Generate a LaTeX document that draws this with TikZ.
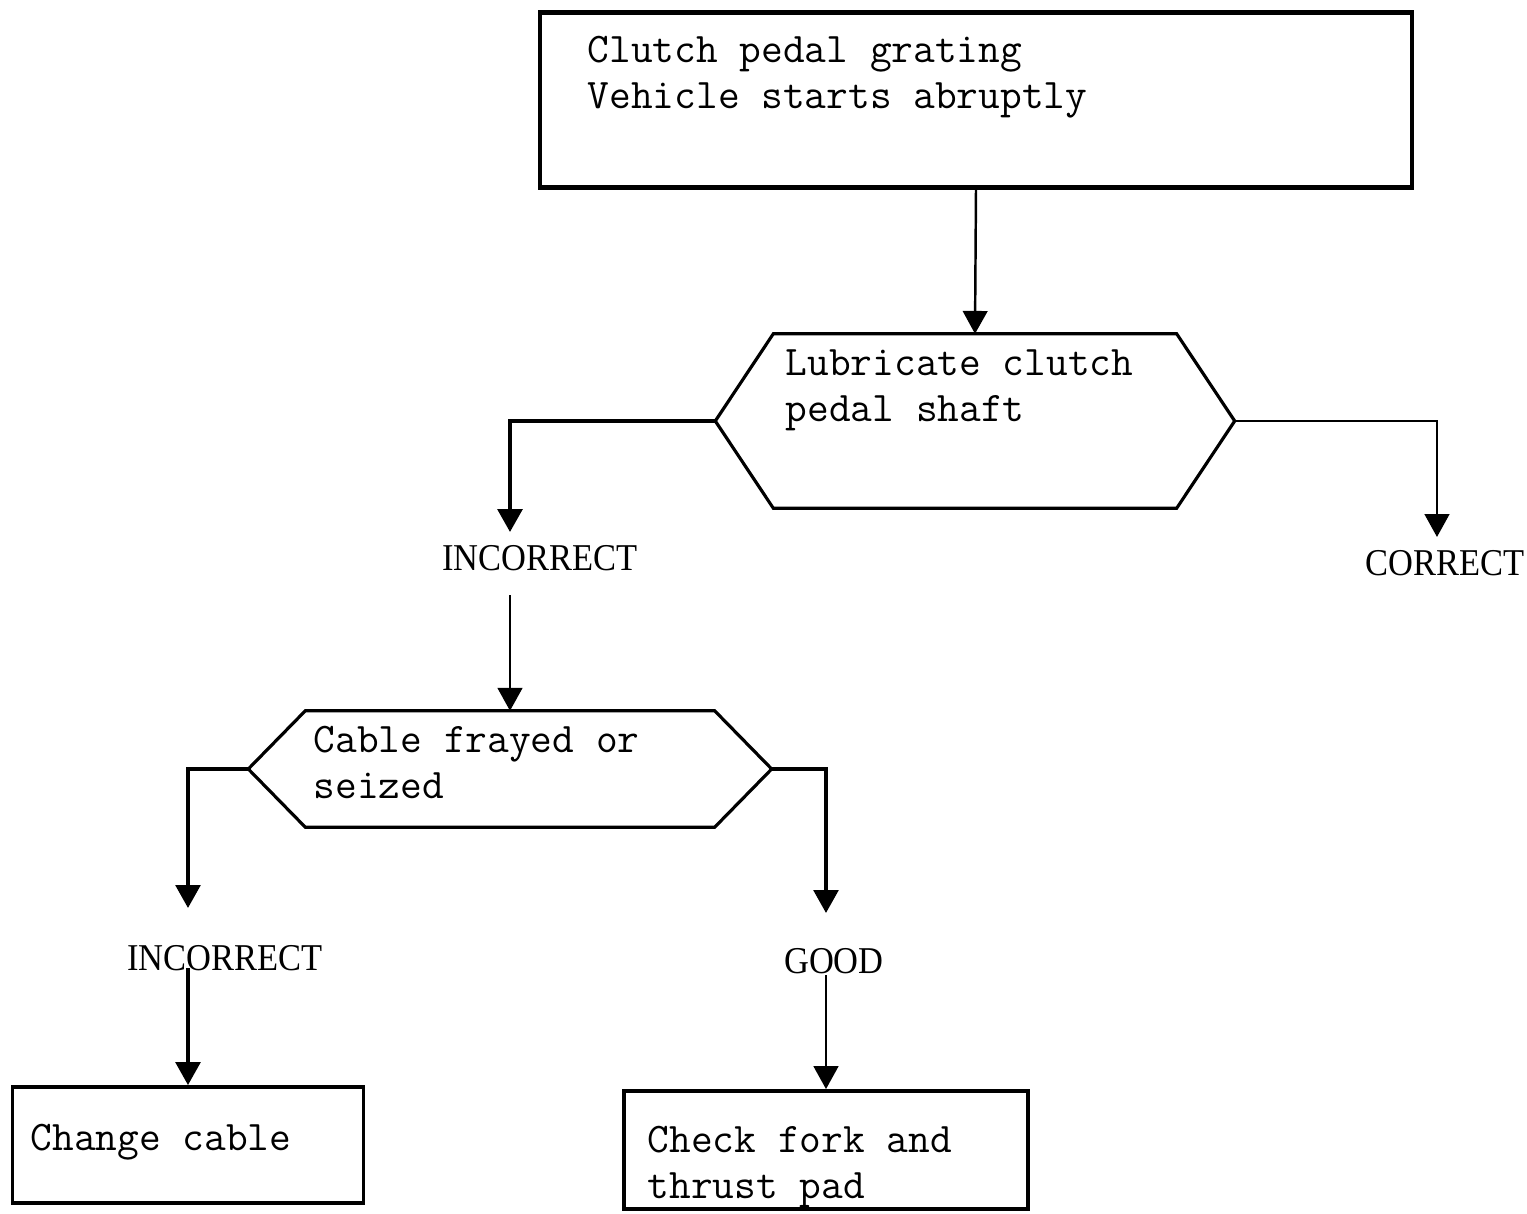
\documentclass[tikz,border=0pt]{standalone}
\usepackage{fontspec}
\newfontfamily\lblfont{Liberation Serif}
\usetikzlibrary{arrows.meta}

\begin{document}
\begin{tikzpicture}[x=0.1mm, y=-0.1mm, >={Triangle[length=6.5pt,width=7pt]},
  box/.style={draw, line width=1.1pt, inner sep=0pt},
  hexa/.style={inner sep=0pt},
  hexline/.style={line width=0.9pt, line join=miter},
  txt/.style={anchor=north west, inner sep=0pt, align=left, font=\fontsize{12}{13}\selectfont\ttfamily},
  lbl/.style={anchor=base, inner sep=0pt, yscale=1.1, font=\fontsize{9.8}{11}\selectfont\lblfont},
  link/.style={->, line width=0.7pt}]
\useasboundingbox (0,0) rectangle (1527,1214);
% boxes and decisions
\node[box, line width=1.4pt, minimum width=87.2mm, minimum height=17.5mm] (sym) at (976,100) {};
\node[txt] (symtxt) at (587,36) {Clutch pedal grating\\Vehicle starts abruptly};
\node[hexa, minimum width=51.8mm, minimum height=17.3mm] (lube) at (975,421) {};
\draw[hexline] (lube.west) -- ([xshift=5.8mm]lube.north west) -- ([xshift=-5.8mm]lube.north east)
  -- (lube.east) -- ([xshift=-5.8mm]lube.south east) -- ([xshift=5.8mm]lube.south west) -- cycle;
\node[txt] (lubetxt) at (785,349) {Lubricate clutch\\pedal shaft};
\node[hexa, minimum width=52.2mm, minimum height=11.5mm] (cable) at (510,769) {};
\draw[hexline] (cable.west) -- ([xshift=5.7mm]cable.north west) -- ([xshift=-5.7mm]cable.north east)
  -- (cable.east) -- ([xshift=-5.7mm]cable.south east) -- ([xshift=5.7mm]cable.south west) -- cycle;
\node[txt] (cabletxt) at (313,726) {Cable frayed or\\seized};
\node[box, minimum width=35.1mm, minimum height=11.6mm] (chg) at (188,1145) {};
\node[txt] (chgtxt) at (30,1124) {Change cable};
\node[box, minimum width=40.4mm, minimum height=11.8mm] (fork) at (826,1150) {};
\node[txt] (forktxt) at (647,1126) {Check fork and\\thrust pad};
% outcomes
\node[lbl] (inc1) at (540,570) {INCORRECT};
\node[lbl] (cor) at (1445,575) {CORRECT};
\node[lbl] (inc2) at (225,970) {INCORRECT};
\node[lbl] (good) at (834,973) {GOOD};
\coordinate (inc1in) at (510,532);
\coordinate (inc1out) at (510,595);
\coordinate (corin) at (1437,537);
\coordinate (inc2in) at (188,908);
\coordinate (inc2out) at (188,968);
\coordinate (goodin) at (826,913);
\coordinate (goodout) at (826,975);
\draw[link] (sym.south) -- (lube.north);
\draw[link, line width=1.1pt] (lube.west) -| (inc1in);
\draw[link] (inc1out) -- (cable.north);
\draw[link] (lube.east) -| (corin);
\draw[link, line width=1pt] (cable.west) -| (inc2in);
\draw[link, line width=1pt] (inc2out) -- (chg.north);
\draw[link, line width=1pt] (cable.east) -| (goodin);
\draw[link] (goodout) -- (fork.north);
\end{tikzpicture}
\end{document}
